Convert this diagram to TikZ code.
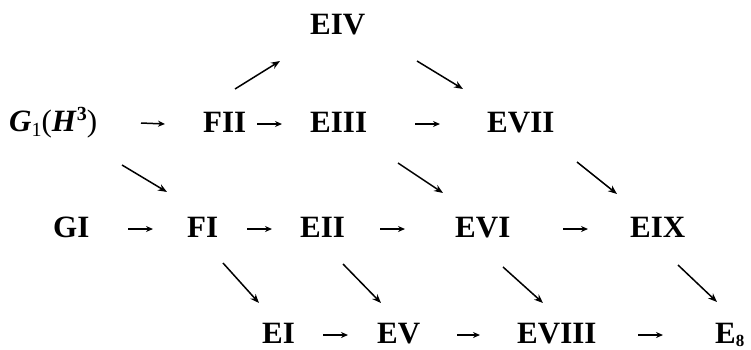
\documentclass[tikz,border=0pt]{standalone}
\usepackage{fontspec}
\setmainfont{Liberation Serif}
\usetikzlibrary{arrows.meta}
\tikzset{
  lbl/.style={inner sep=0pt, anchor=base west, font=\fontsize{31}{31}\selectfont\bfseries},
  harr/.style={line width=1.5pt, -{Stealth[length=7pt,width=6pt]}},
  darr/.style={line width=1.5pt, -{Stealth[length=9pt,width=7pt]}}
}
\newcommand{\lowidx}[1]{\raisebox{-5pt}{\fontsize{20}{20}\selectfont #1}}
\begin{document}
\begin{tikzpicture}[x=1pt,y=-1pt]
\useasboundingbox (0,0) rectangle (751,349);
% row 1
\node[lbl] (eiv) at (310,34) {EIV};
% row 2
\node[lbl] (g1) at (9,131) {\textit{G}\lowidx{\mdseries 1}{\mdseries(}\textit{H}\raisebox{11pt}{\fontsize{20}{20}\selectfont 3}{\mdseries)}};
\node[lbl] (fii) at (203,132) {FII};
\node[lbl] (eiii) at (310,132) {EIII};
\node[lbl] (evii) at (487,132) {EVII};
% row 3
\node[lbl] (gi) at (53,237) {GI};
\node[lbl] (fi) at (187,237) {FI};
\node[lbl] (eii) at (300,237) {EII};
\node[lbl] (evi) at (455,237) {EVI};
\node[lbl] (eix) at (630,237) {EIX};
% row 4
\node[lbl] (ei) at (262,343) {EI};
\node[lbl] (ev) at (377,343) {EV};
\node[lbl] (eviii) at (517,343) {EVIII};
\node[lbl] (eeight) at (715,343) {E\raisebox{-3pt}{\fontsize{17}{17}\selectfont 8}};
% horizontal arrows
\draw[harr] ([shift={(132,-8)}]g1.base west) -- ([shift={(-38,-8)}]fii.base west);
\draw[harr] ([shift={(54,-8)}]fii.base west) -- ([shift={(-28,-8)}]eiii.base west);
\draw[harr] ([shift={(105,-8)}]eiii.base west) -- ([shift={(-47,-8)}]evii.base west);
\draw[harr] ([shift={(75,-8)}]gi.base west) -- ([shift={(-34,-8)}]fi.base west);
\draw[harr] ([shift={(60,-8)}]fi.base west) -- ([shift={(-28,-8)}]eii.base west);
\draw[harr] ([shift={(80,-8)}]eii.base west) -- ([shift={(-50,-8)}]evi.base west);
\draw[harr] ([shift={(108,-8)}]evi.base west) -- ([shift={(-42,-8)}]eix.base west);
\draw[harr] ([shift={(61,-8)}]ei.base west) -- ([shift={(-29,-8)}]ev.base west);
\draw[harr] ([shift={(80,-8)}]ev.base west) -- ([shift={(-37,-8)}]eviii.base west);
\draw[harr] ([shift={(121,-8)}]eviii.base west) -- ([shift={(-52,-8)}]eeight.base west);
% diagonal arrows
\draw[darr] ([shift={(32,-43)}]fii.base west) -- ([shift={(-30,27)}]eiv.base west);
\draw[darr] ([shift={(107,27)}]eiv.base west) -- ([shift={(-24,-43)}]evii.base west);
\draw[darr] ([shift={(113,34)}]g1.base west) -- ([shift={(-20,-45)}]fi.base west);
\draw[darr] ([shift={(88,31)}]eiii.base west) -- ([shift={(-12,-44)}]evi.base west);
\draw[darr] ([shift={(90,30)}]evii.base west) -- ([shift={(-13,-43)}]eix.base west);
\draw[darr] ([shift={(36,26)}]fi.base west) -- ([shift={(-3,-40)}]ei.base west);
\draw[darr] ([shift={(43,27)}]eii.base west) -- ([shift={(4,-40)}]ev.base west);
\draw[darr] ([shift={(48,30)}]evi.base west) -- ([shift={(26,-40)}]eviii.base west);
\draw[darr] ([shift={(48,28)}]eix.base west) -- ([shift={(2,-41)}]eeight.base west);
\end{tikzpicture}
\end{document}
